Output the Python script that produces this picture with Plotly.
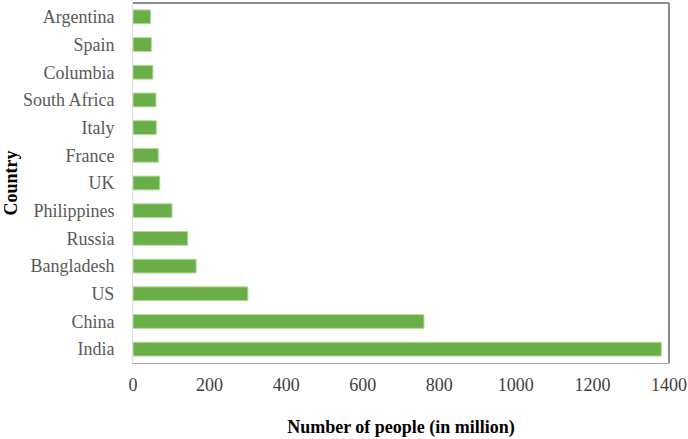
import plotly.graph_objects as go

countries = ["India", "China", "US", "Bangladesh", "Russia", "Philippines", "UK",
             "France", "Italy", "South Africa", "Columbia", "Spain", "Argentina"]
people_million = [1380, 760, 300, 165, 143, 102, 70, 66, 61, 60, 52, 48, 46]
x_ticks = [0, 200, 400, 600, 800, 1000, 1200, 1400]

fig = go.Figure()
fig.add_trace(go.Bar(
    y=countries, x=people_million, orientation="h",
    marker=dict(color="#6aae47", line=dict(color="#b5dc9c", width=1)),
    width=0.5, showlegend=False,
))

font_family = "Liberation Serif, Times New Roman, serif"
fig.update_layout(
    width=688, height=439,
    margin=dict(l=133, r=19, t=3, b=76),
    paper_bgcolor="white", plot_bgcolor="white",
    font=dict(family=font_family, size=18, color="#595959"),
    xaxis=dict(
        range=[0, 1400], tickvals=x_ticks, showgrid=False, zeroline=False,
        showline=True, linecolor="#a6a6a6", linewidth=1,
        ticks="", ticklabelstandoff=5,
        tickfont=dict(family=font_family, size=18, color="#404040"),
        title=dict(text="<b>Number of people (in million)</b>", standoff=26,
                   font=dict(family=font_family, size=18, color="black")),
        automargin=False,
    ),
    yaxis=dict(
        categoryorder="array", categoryarray=countries,
        showgrid=False, zeroline=False,
        showline=True, linecolor="#d9dce8", linewidth=1,
        ticks="", ticklabelstandoff=14,
        tickfont=dict(family=font_family, size=18, color="#595959"),
        title=dict(text="<b>Country</b>", standoff=0,
                   font=dict(family=font_family, size=18, color="black")),
        automargin=False,
    ),
    bargap=0.5,
)
# frame on top and right
fig.add_shape(type="line", xref="paper", yref="paper", x0=0, x1=1, y0=1, y1=1,
              line=dict(color="#8c8c8c", width=2))
fig.add_shape(type="line", xref="paper", yref="paper", x0=1, x1=1, y0=0, y1=1,
              line=dict(color="#8c8c8c", width=2))

fig.write_html("out.html", config={"displayModeBar": False},
               post_script="document.body.style.margin='0';")
